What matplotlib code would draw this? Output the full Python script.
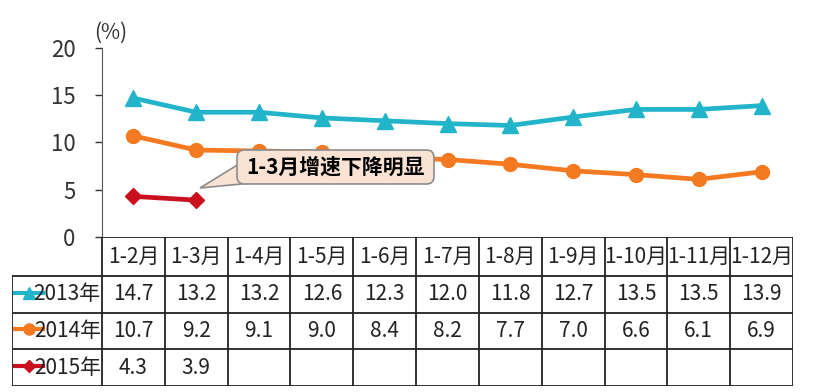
import numpy as np
import matplotlib.pyplot as plt
from matplotlib.patches import FancyBboxPatch, Polygon

plt.rcParams.update({"font.family": ["Noto Sans CJK SC", "DejaVu Sans"],
                     "font.size": 15})

months = ["1-2月", "1-3月", "1-4月", "1-5月", "1-6月", "1-7月",
          "1-8月", "1-9月", "1-10月", "1-11月", "1-12月"]
v2013 = [14.7, 13.2, 13.2, 12.6, 12.3, 12.0, 11.8, 12.7, 13.5, 13.5, 13.9]
v2014 = [10.7, 9.2, 9.1, 9.0, 8.4, 8.2, 7.7, 7.0, 6.6, 6.1, 6.9]
v2015 = [4.3, 3.9]
names = ["2013年", "2014年", "2015年"]
yticks = [0, 5, 10, 15, 20]
note = "1-3月增速下降明显"

c13, c14, c15 = "#22b4c9", "#f47920", "#c8101e"
styles = [(c13, "^", 11), (c14, "o", 10), (c15, "D", 8)]

W, H = 813, 392
fig = plt.figure(figsize=(W / 100, H / 100), dpi=100)

# main chart, pixel layout from the reference
x0, x1, ytop, ybot = 102, 793, 48, 237
ax = fig.add_axes([x0 / W, 1 - ybot / H, (x1 - x0) / W, (ybot - ytop) / H])
n = len(months)
x = np.arange(n)
for vals, (c, m, ms) in zip([v2013, v2014, v2015], styles):
    ax.plot(x[:len(vals)], vals, color=c, lw=3.4, marker=m, ms=ms, mfc=c, mec=c)
ax.set_xlim(-0.5, n - 0.5)
ax.set_ylim(0, 20)
ax.set_yticks(yticks)
ax.tick_params(axis="y", direction="out", length=5, width=1, colors="#333333",
               labelsize=16, pad=14)
ax.tick_params(axis="x", length=0, labelbottom=False)
for s in ["top", "right", "bottom"]:
    ax.spines[s].set_visible(False)
ax.spines["left"].set_color("#555555")
ax.text(-0.012, 1.02, "(%)", transform=ax.transAxes, fontsize=15, color="#333333",
        ha="left", va="bottom")

# callout box (pixel positions converted to data units)
colw = (x1 - x0) / n
ypx = (ybot - ytop) / 20
def to_data(px, py):
    return ((px - x0) / colw - 0.5, (ybot - py) / ypx)

bx0, by0 = to_data(237, 184)
bx1, by1 = to_data(434, 150)
tip = to_data(200, 188)
b1 = to_data(239, 164)
b2 = to_data(262, 182)
ax.add_patch(Polygon([tip, b1, b2], closed=True, fc="#fbe3d3", ec="#8c8c8c",
                     lw=1.2, zorder=5))
ax.add_patch(FancyBboxPatch((bx0, by0), bx1 - bx0, by1 - by0,
                            boxstyle="round,pad=0,rounding_size=0.12",
                            mutation_aspect=colw / ypx,
                            fc="#fbe3d3", ec="#8c8c8c", lw=1.2, zorder=6))
ax.text((bx0 + bx1) / 2, (by0 + by1) / 2, note, fontsize=15, fontweight="bold",
        ha="center", va="center", zorder=7)

# data table under the chart
tl, tb = 12, 386
rows_y = [237, 276, 313, 349, 386]
tax = fig.add_axes([tl / W, 1 - tb / H, (x1 - tl) / W, (tb - ybot) / H])
lab_w = (x0 - tl) / colw
tax.set_xlim(-0.5 - lab_w, n - 0.5)
tax.set_ylim(tb, ybot)
tax.axis("off")
lc = "#222222"
tax.plot([-0.5, n - 0.5], [rows_y[0], rows_y[0]], color=lc, lw=1.3)
for yy in rows_y[1:]:
    tax.plot([-0.5 - lab_w, n - 0.5], [yy, yy], color=lc, lw=1.3)
tax.plot([-0.5 - lab_w, -0.5 - lab_w], [rows_y[1], rows_y[-1]], color=lc, lw=1.3)
for k in range(n + 1):
    tax.plot([k - 0.5, k - 0.5], [rows_y[0], rows_y[-1]], color=lc, lw=1.3)

mid = [(rows_y[i] + rows_y[i + 1]) / 2 for i in range(4)]
for i, mo in enumerate(months):
    tax.text(i, mid[0], mo, ha="center", va="center", fontsize=15, color="#222222")
for r, (vals, name, (c, m, ms)) in enumerate(zip([v2013, v2014, v2015], names, styles)):
    ym = mid[r + 1]
    for i, v in enumerate(vals):
        tax.text(i, ym, f"{v:.1f}", ha="center", va="center", fontsize=15, color="#222222")
    lx0 = -0.5 - lab_w + 0.05
    tax.plot([lx0, lx0 + 0.45], [ym - 2, ym - 2], color=c, lw=3)
    tax.plot([lx0 + 0.22], [ym - 2], marker=m, color=c, ms=ms * 0.8)
    tax.text(-0.52, ym, name, ha="right", va="center", fontsize=15, color="#222222")

fig.savefig("out.png", dpi=100)
